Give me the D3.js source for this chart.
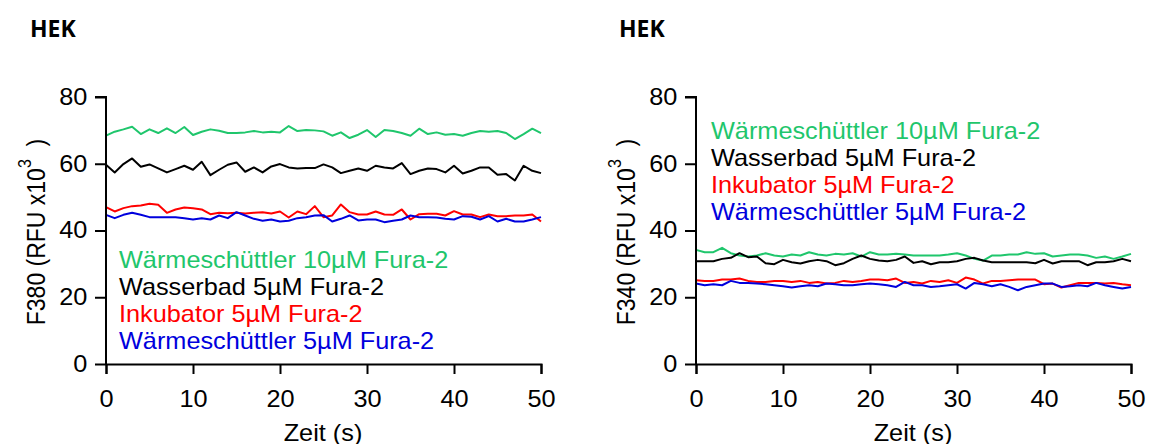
<!DOCTYPE html>
<html>
<head>
<meta charset="utf-8">
<script src="https://cdn.jsdelivr.net/npm/d3@7"></script>
<style>
  body { margin: 0; background: #fff; }
  svg { display: block; }
  text { font-family: "Liberation Sans", Arial, sans-serif; }
</style>
</head>
<body>
<svg id="chart" width="1149" height="444"></svg>
<script>
// time points (s)
const zeit = [0,1,2,3,4,5,6,7,8,9,10,11,12,13,14,15,16,17,18,19,20,21,22,23,24,25,
  26,27,28,29,30,31,32,33,34,35,36,37,38,39,40,41,42,43,44,45,46,47,48,49,50];

const yTicks = [0, 20, 40, 60, 80];
const xTicks = [0, 10, 20, 30, 40, 50];

const seriesNames = ["Wärmeschüttler 10µM Fura-2", "Wasserbad 5µM Fura-2",
  "Inkubator 5µM Fura-2", "Wärmeschüttler 5µM Fura-2"];
const seriesColors = ["#1fc66c", "#000000", "#ff0000", "#0000dd"];

// F380 (RFU x10^3)
const f380W10 = [68.4, 69.6, 70.3, 71.1, 68.9, 70.3, 69.2, 70.6, 69.2, 71.0, 68.6, 69.6, 70.3,
  69.9, 69.2, 69.2, 69.4, 69.8, 69.4, 69.6, 69.4, 71.3, 69.8, 70.1, 70.0, 69.7,
  68.4, 69.4, 67.7, 68.7, 70.1, 68.0, 70.1, 69.8, 69.2, 68.4, 70.5, 68.9, 69.4,
  68.7, 68.9, 68.4, 69.2, 69.8, 69.6, 69.8, 69.2, 67.4, 68.9, 70.5, 69.2];
const f380Wb5 = [59.7, 57.4, 59.9, 61.6, 59.1, 59.8, 58.6, 57.4, 58.4, 59.4, 58.2, 60.6, 56.6,
  58.2, 59.7, 60.4, 57.6, 58.9, 57.4, 59.2, 59.9, 58.9, 58.6, 58.7, 58.7, 59.8,
  58.9, 57.2, 57.9, 58.6, 57.9, 59.4, 58.9, 58.6, 60.2, 56.9, 57.9, 58.6, 58.4,
  57.4, 59.4, 57.1, 57.9, 58.9, 58.9, 56.7, 56.9, 55.0, 59.4, 57.9, 57.2];
const f380Ink5 = [47.0, 45.7, 46.7, 47.3, 47.5, 48.0, 47.7, 45.3, 46.3, 46.9, 46.7, 46.3, 44.9,
  45.3, 45.2, 45.3, 45.1, 45.3, 45.5, 45.1, 45.7, 43.9, 45.7, 44.9, 47.3, 44.0,
  44.5, 47.8, 45.5, 44.8, 44.8, 45.7, 44.8, 44.7, 46.3, 43.3, 44.9, 45.0, 45.0,
  44.5, 45.8, 44.8, 44.8, 44.0, 44.8, 44.3, 44.3, 44.5, 44.5, 44.8, 42.7];
const f380W5 = [44.7, 43.7, 44.7, 45.3, 44.7, 44.0, 44.0, 44.0, 44.0, 43.7, 43.3, 43.7, 43.3,
  44.5, 43.7, 45.5, 44.5, 43.5, 42.9, 43.3, 42.7, 42.9, 43.7, 44.0, 44.5, 44.6,
  42.7, 43.5, 44.5, 43.0, 43.3, 43.3, 42.5, 42.9, 43.3, 44.5, 44.0, 44.0, 43.9,
  43.5, 43.3, 44.3, 44.1, 43.3, 44.3, 42.7, 43.5, 42.7, 42.7, 43.3, 44.0];

// F340 (RFU x10^3)
const f340W10 = [34.2, 33.5, 33.5, 34.8, 33.2, 32.5, 32.2, 32.5, 33.2, 32.5, 32.2, 32.8, 32.5,
  33.5, 32.8, 32.5, 33.0, 32.8, 33.2, 32.2, 33.5, 32.8, 32.8, 33.0, 32.8, 32.5,
  32.5, 32.5, 32.5, 32.8, 33.2, 32.5, 31.5, 31.0, 32.5, 32.5, 32.8, 32.8, 33.5,
  33.0, 33.2, 32.2, 32.5, 32.8, 32.8, 32.5, 31.8, 32.2, 31.5, 32.2, 33.0];
const f340Wb5 = [30.8, 30.8, 30.8, 31.5, 31.8, 33.2, 32.0, 32.2, 30.2, 29.9, 31.2, 30.5, 30.1,
  30.8, 31.2, 30.8, 29.6, 30.2, 31.5, 32.5, 31.5, 31.0, 30.8, 31.2, 32.2, 30.3,
  30.8, 29.9, 30.5, 30.5, 30.8, 31.5, 31.8, 31.0, 30.5, 30.5, 30.5, 30.5, 30.5,
  30.2, 31.2, 30.1, 30.8, 30.8, 30.8, 29.6, 30.5, 30.5, 30.8, 31.5, 30.8];
const f340Ink5 = [25.1, 24.9, 24.9, 25.3, 25.3, 25.6, 24.9, 24.6, 24.6, 24.9, 24.9, 24.6, 24.9,
  24.3, 24.6, 24.1, 24.3, 24.9, 24.6, 24.9, 25.3, 25.3, 25.1, 25.6, 24.3, 24.6,
  24.1, 24.9, 24.6, 25.1, 24.3, 25.9, 25.3, 24.1, 24.9, 24.9, 25.1, 25.3, 25.3,
  25.3, 23.9, 24.1, 22.9, 23.6, 24.3, 24.3, 24.3, 24.1, 24.3, 23.9, 23.6];
const f340W5 = [24.1, 23.6, 23.9, 23.6, 24.9, 24.3, 24.3, 24.1, 23.9, 23.6, 23.3, 22.9, 23.3,
  23.6, 23.3, 24.1, 23.9, 23.6, 23.6, 23.9, 24.1, 23.9, 23.6, 23.1, 24.6, 23.6,
  23.6, 23.1, 23.3, 23.6, 23.9, 22.6, 24.3, 23.9, 23.3, 23.9, 23.1, 22.1, 23.1,
  23.6, 24.1, 24.1, 23.1, 23.3, 23.6, 23.3, 24.3, 23.6, 23.1, 22.6, 23.1];

const svg = d3.select("#chart");
const sx = 1.1; // the original figure is a bit wider than tall

function drawPanel(p) {
  const x = d3.scaleLinear().domain([0, 50]).range([p.left, p.left + 435]);
  const y = d3.scaleLinear().domain([0, 80]).range([364, 97]);
  const g = svg.append("g");

  // title
  g.append("text")
    .attr("x", p.titleX).attr("y", 37)
    .style("font-family", "'Open Sans', sans-serif")
    .style("font-weight", "bold").style("font-size", "23px")
    .text("HEK");

  // lines
  const line = d3.line().x((d, i) => x(zeit[i])).y(d => y(d));
  p.series.forEach((s, i) => {
    g.append("path")
      .datum(s)
      .attr("fill", "none")
      .attr("stroke", seriesColors[i])
      .attr("stroke-width", 2)
      .attr("stroke-linejoin", "round")
      .attr("d", line);
  });

  // axes
  const yAxis = g.append("g")
    .attr("transform", `translate(${p.left},0)`)
    .call(d3.axisLeft(y).tickValues(yTicks).tickSize(11).tickPadding(6));
  const xAxis = g.append("g")
    .attr("transform", "translate(0,364)")
    .call(d3.axisBottom(x).tickValues(xTicks).tickSize(10).tickPadding(17));
  [yAxis, xAxis].forEach(a => {
    a.select(".domain").attr("stroke-width", 2);
    a.selectAll(".tick line").attr("stroke-width", 2);
    a.selectAll(".tick text").style("font-size", "23px")
      .style("font-family", "'Liberation Sans', Arial, sans-serif").attr("fill", "#000")
      .attr("transform", `scale(${sx},1)`);
  });
  // axis lines meet at the corner
  yAxis.select(".domain").attr("d", `M-11,97H0V365`);

  // x label
  g.append("text")
    .attr("transform", `translate(${p.left + 217},441) scale(${sx},1)`)
    .attr("text-anchor", "middle").style("font-size", "23px")
    .text("Zeit (s)");

  // y label
  const yl = g.append("text")
    .attr("transform", `translate(${p.left - 61},232) scale(${sx},1) rotate(-90)`)
    .attr("text-anchor", "middle").style("font-size", "23px")
    .attr("xml:space", "preserve");
  yl.append("tspan").text(p.yName + " (RFU x10");
  yl.append("tspan").attr("dy", -13).style("font-size", "16px").text("3");
  yl.append("tspan").attr("dy", 13).text("  )");

  // legend
  seriesNames.forEach((name, i) => {
    g.append("text")
      .attr("transform", `translate(${p.legendX},${p.legendY + i * 27}) scale(${sx},1)`)
      .attr("fill", seriesColors[i]).style("font-size", "23px")
      .text(name);
  });
}

drawPanel({
  left: 106, titleX: 30, yName: "F380",
  series: [f380W10, f380Wb5, f380Ink5, f380W5],
  legendX: 119, legendY: 268
});
drawPanel({
  left: 696, titleX: 619, yName: "F340",
  series: [f340W10, f340Wb5, f340Ink5, f340W5],
  legendX: 711, legendY: 139
});
</script>
</body>
</html>
